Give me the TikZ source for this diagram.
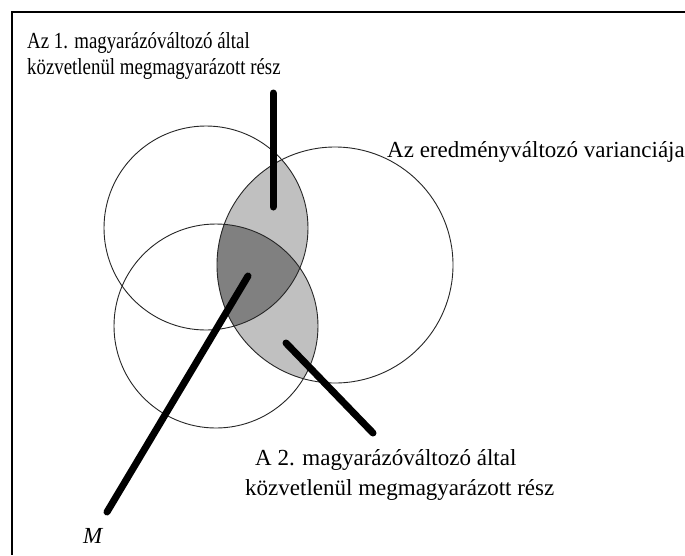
\documentclass[tikz,border=0pt]{standalone}
\usepackage{fontspec}
\setmainfont{Liberation Serif}
\definecolor{lightshade}{HTML}{C0C0C0}
\definecolor{darkshade}{HTML}{808080}
\begin{document}
\begin{tikzpicture}[x=1pt,y=-1pt,
  ring/.style={draw=black!85, line width=0.9pt},
  pointer/.style={line width=7pt, line cap=round, black},
  frameline/.style={line width=2.4pt, black},
  lbl/.style={inner sep=0pt, anchor=base west, font=\fontsize{23}{27}\selectfont}]
\useasboundingbox (0,0) rectangle (685,555);
\fill[white] (0,0) rectangle (685,555);
% frame (top and left edges visible)
\coordinate (f1) at (685,12);
\coordinate (f2) at (12,12);
\coordinate (f3) at (12,555);
\draw[frameline] (f1) -- (f2) -- (f3);
% circle centres
\coordinate (cA) at (206,228);
\coordinate (cB) at (216,326);
\coordinate (cC) at (335,265);
% shaded regions
\begin{scope}
  \clip (cC) circle[radius=118pt];
  \fill[lightshade] (cA) circle[radius=102pt];
  \fill[lightshade] (cB) circle[radius=102pt];
  \clip (cA) circle[radius=102pt];
  \fill[darkshade] (cB) circle[radius=102pt];
\end{scope}
\draw[ring] (cA) circle[radius=102pt];
\draw[ring] (cB) circle[radius=102pt];
\draw[ring] (cC) circle[radius=118pt];
% labels
\node[lbl] (t1a) at (27,48) {\scalebox{0.82}[1]{Az 1. magyarázóváltozó által}};
\node[lbl] (t1b) at (27,74) {\scalebox{0.82}[1]{közvetlenül megmagyarázott rész}};
\node[lbl] (t3) at (387,157) {Az eredményváltozó varianciája};
\node[lbl] (t2a) at (255,465) {A 2. magyarázóváltozó által};
\node[lbl] (t2b) at (245,495) {közvetlenül megmagyarázott rész};
\node[lbl] (tM) at (83,543) {\itshape M};
% pointer lines
\coordinate (p1s) at (273,93);
\coordinate (p1e) at (273,207);
\coordinate (pMs) at (107,512);
\coordinate (pMe) at (248,276);
\coordinate (p2s) at (373,433);
\coordinate (p2e) at (286,343);
\draw[pointer] (p1s) -- (p1e);
\draw[pointer] (pMs) -- (pMe);
\draw[pointer] (p2s) -- (p2e);
\end{tikzpicture}
\end{document}
